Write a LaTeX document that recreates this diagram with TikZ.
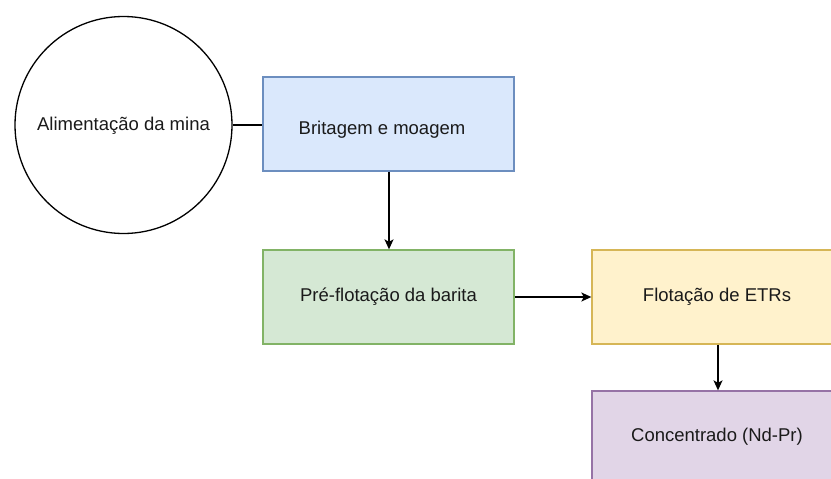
\documentclass[tikz,border=0pt]{standalone}
\usepackage{fontspec}
\setmainfont{Liberation Sans}
\usetikzlibrary{arrows.meta}
\definecolor{bfill}{HTML}{DAE8FC}\definecolor{bdraw}{HTML}{6C8EBF}
\definecolor{gfill}{HTML}{D5E8D4}\definecolor{gdraw}{HTML}{82B366}
\definecolor{yfill}{HTML}{FFF2CC}\definecolor{ydraw}{HTML}{D6B656}
\definecolor{pfill}{HTML}{E1D5E7}\definecolor{pdraw}{HTML}{9673A6}
\definecolor{txt}{HTML}{1A1A1A}
\begin{document}
\begin{tikzpicture}[x=1pt,y=-1pt,
  lbl/.style={font=\fontsize{18.5}{22}\selectfont, text=txt, inner sep=0pt},
  procbox/.style={draw, line width=1.3pt, minimum width=251pt, minimum height=94pt, inner sep=0pt},
  conn/.style={line width=1.4pt, draw=black},
  arr/.style={conn, -{Stealth[length=10pt,width=9pt,inset=2.5pt]}}]
\useasboundingbox (0,0) rectangle (831,479);
\node[circle, draw, line width=1.3pt, minimum size=217pt, inner sep=0pt] (mina) at (123.5,125) {};
\node[lbl] at (123.5,126) {Alimentação da mina};
\node[procbox, fill=bfill, draw=bdraw] (brit) at (388.5,124) {};
\node[lbl] at (382,130) {Britagem e moagem};
\node[procbox, fill=gfill, draw=gdraw] (pre) at (388.5,297) {};
\node[lbl] at (388.5,297) {Pré-flotação da barita};
\node[procbox, fill=yfill, draw=ydraw] (flot) at (717.5,297) {};
\node[lbl] at (717,297) {Flotação de ETRs};
\node[procbox, fill=pfill, draw=pdraw] (conc) at (717.5,438) {};
\node[lbl] at (717,437) {Concentrado (Nd-Pr)};
\draw[conn] (mina.east) -- (mina.east -| brit.west);
\draw[arr] ([xshift=0.5pt]brit.south) -- ([xshift=0.5pt]pre.north);
\draw[arr] (pre.east) -- (flot.west);
\draw[arr] ([xshift=0.5pt]flot.south) -- ([xshift=0.5pt]conc.north);
\end{tikzpicture}
\end{document}
